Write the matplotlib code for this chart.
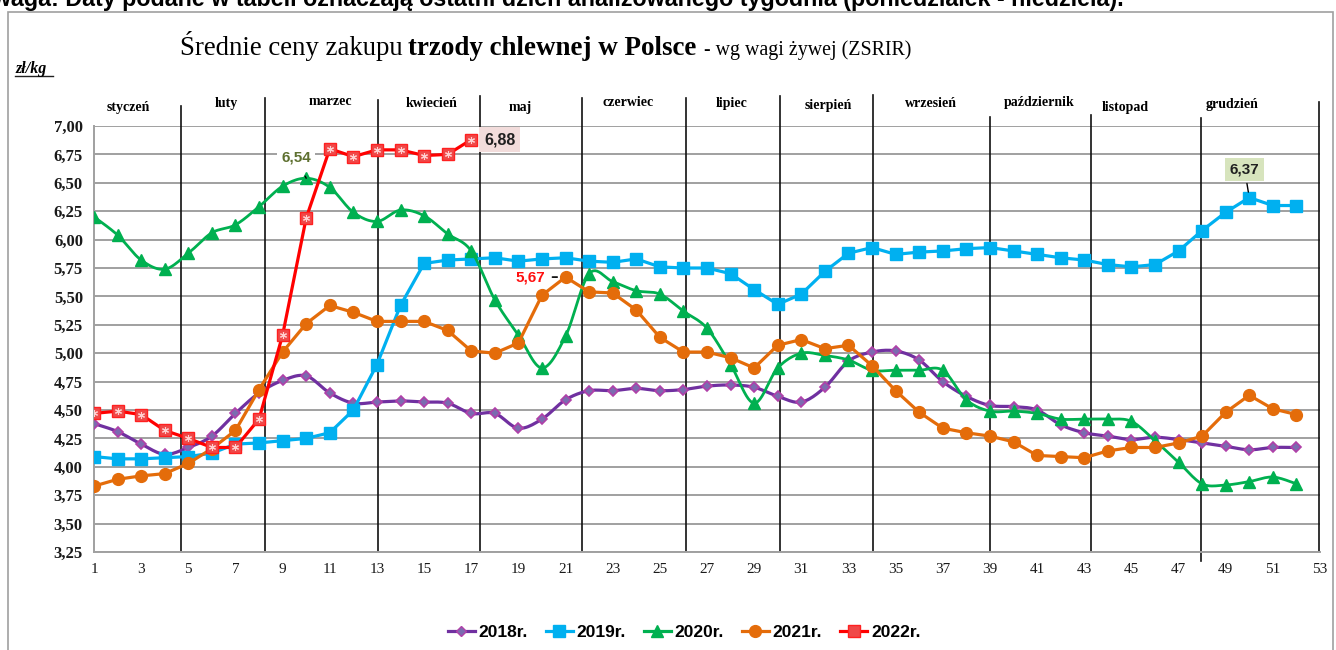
import numpy as np
import matplotlib
matplotlib.use("Agg")
import matplotlib.pyplot as plt
from matplotlib.lines import Line2D
from matplotlib.patches import Rectangle

# --- data: weekly prices (zl/kg) ---
weeks = np.arange(1, 53)
p2018 = [4.38, 4.31, 4.20, 4.11, 4.17, 4.27, 4.47, 4.65, 4.76, 4.80, 4.65, 4.56, 4.57,
         4.58, 4.57, 4.56, 4.47, 4.47, 4.34, 4.42, 4.59, 4.67, 4.67, 4.69, 4.67, 4.68,
         4.71, 4.72, 4.70, 4.62, 4.57, 4.70, 4.93, 5.01, 5.02, 4.94, 4.75, 4.62, 4.54,
         4.53, 4.50, 4.37, 4.30, 4.27, 4.24, 4.26, 4.24, 4.21, 4.18, 4.15, 4.17, 4.17]
p2019 = [4.09, 4.07, 4.07, 4.08, 4.09, 4.12, 4.20, 4.21, 4.23, 4.25, 4.30, 4.50, 4.90,
         5.42, 5.79, 5.82, 5.83, 5.84, 5.81, 5.83, 5.84, 5.81, 5.80, 5.83, 5.76, 5.75,
         5.75, 5.70, 5.56, 5.43, 5.52, 5.72, 5.88, 5.93, 5.87, 5.89, 5.90, 5.92, 5.93,
         5.90, 5.87, 5.84, 5.82, 5.78, 5.76, 5.78, 5.90, 6.08, 6.24, 6.37, 6.30, 6.30]
p2020 = [6.20, 6.04, 5.82, 5.74, 5.88, 6.06, 6.13, 6.29, 6.47, 6.54, 6.46, 6.24, 6.16,
         6.26, 6.21, 6.05, 5.90, 5.47, 5.16, 4.87, 5.15, 5.70, 5.63, 5.55, 5.52, 5.37,
         5.22, 4.90, 4.56, 4.87, 5.00, 4.98, 4.94, 4.85, 4.85, 4.85, 4.85, 4.59, 4.49,
         4.49, 4.47, 4.42, 4.42, 4.42, 4.40, 4.23, 4.04, 3.85, 3.84, 3.87, 3.91, 3.85]
p2021 = [3.83, 3.89, 3.92, 3.94, 4.03, 4.16, 4.32, 4.68, 5.01, 5.26, 5.42, 5.36, 5.28,
         5.28, 5.28, 5.20, 5.02, 5.00, 5.09, 5.51, 5.67, 5.54, 5.53, 5.38, 5.14, 5.01,
         5.01, 4.96, 4.87, 5.07, 5.12, 5.04, 5.07, 4.89, 4.67, 4.48, 4.34, 4.30, 4.27,
         4.22, 4.10, 4.09, 4.08, 4.14, 4.17, 4.17, 4.21, 4.27, 4.48, 4.63, 4.51, 4.46]
p2022 = [4.47, 4.49, 4.46, 4.32, 4.25, 4.17, 4.17, 4.42, 5.16, 6.19, 6.80, 6.73, 6.79,
         6.79, 6.74, 6.75, 6.88]

months = ["styczeń", "luty", "marzec", "kwiecień", "maj", "czerwiec", "lipiec",
          "sierpień", "wrzesień", "październik", "listopad", "grudzień"]
month_x = [2.44, 6.60, 11.01, 15.33, 19.07, 23.65, 28.06, 32.13, 36.50, 41.08, 44.72, 49.26]
month_y = [7.16, 7.20, 7.22, 7.20, 7.16, 7.21, 7.20, 7.18, 7.20, 7.21, 7.16, 7.19]
sep_x = [4.71, 8.25, 13.04, 17.37, 21.70, 26.11, 30.09, 34.04, 39.0, 43.28, 47.95, 52.95]
sep_top = [7.18, 7.25, 7.23, 7.26, 7.25, 7.25, 7.26, 7.27, 7.08, 7.10, 7.07, 7.21]
sep_bot = [3.26, 3.26, 3.26, 3.26, 3.26, 3.26, 3.26, 3.26, 3.26, 3.26, 3.17, 3.26]

c2018, c2019, c2020, c2021, c2022 = "#7030A0", "#00B0F0", "#00B050", "#E46C0A", "#FF0000"


def smooth(x, y, n=12):
    """Excel-like smoothed line (Catmull-Rom bezier)"""
    x = np.asarray(x, float)
    y = np.asarray(y, float)
    px = np.concatenate([[x[0]], x, [x[-1]]])
    py = np.concatenate([[y[0]], y, [y[-1]]])
    xs, ys = [], []
    t = np.linspace(0, 1, n, endpoint=False)
    for i in range(1, len(px) - 2):
        p0x, p1x, p2x, p3x = px[i - 1], px[i], px[i + 1], px[i + 2]
        p0y, p1y, p2y, p3y = py[i - 1], py[i], py[i + 1], py[i + 2]
        c1x, c1y = p1x + (p2x - p0x) / 6, p1y + (p2y - p0y) / 6
        c2x, c2y = p2x - (p3x - p1x) / 6, p2y - (p3y - p1y) / 6
        b = [(1 - t) ** 3, 3 * (1 - t) ** 2 * t, 3 * (1 - t) * t ** 2, t ** 3]
        xs.append(b[0] * p1x + b[1] * c1x + b[2] * c2x + b[3] * p2x)
        ys.append(b[0] * p1y + b[1] * c1y + b[2] * c2y + b[3] * p2y)
    xs.append([x[-1]])
    ys.append([y[-1]])
    return np.concatenate(xs), np.concatenate(ys)


W, H = 1336, 650
fig = plt.figure(figsize=(W / 100, H / 100), dpi=100)
ax = fig.add_axes([94 / W, 1 - 552 / H, (1320 - 94) / W, (552 - 126) / H])

# outer frame
fig.add_artist(Rectangle((8 / W, -0.01), (1333 - 8) / W, 1 - 12 / H + 0.01,
                         transform=fig.transFigure, fill=False, ec="#A0A0A0", lw=1.2))

# series
sx, sy = smooth(weeks, p2018)
ax.plot(sx, sy, color=c2018, lw=2.3, zorder=3)
ax.plot(weeks, p2018, ls="none", marker="D", ms=5, mfc="#7B6BB0", mec="#B040A8", mew=1.2, zorder=3)
ax.plot(weeks, p2019, color=c2019, lw=2.3, marker="s", ms=8.5, mec=c2019, zorder=4)
sx, sy = smooth(weeks, p2020)
ax.plot(sx, sy, color=c2020, lw=2.0, zorder=5)
ax.plot(weeks, p2020, ls="none", marker="^", ms=9, color=c2020, zorder=5)
ax.plot(weeks, p2021, color=c2021, lw=2.3, marker="o", ms=8.5, zorder=6)
ax.plot(weeks[:len(p2022)], p2022, color=c2022, lw=2.3, marker="s", ms=8, mfc="#F04848", mec="#FF2020", zorder=7)
ax.plot(weeks[:len(p2022)], p2022, ls="none", marker=(6, 2, 0), ms=5, mec="#FFD0D0", mew=0.8, zorder=8)

ax.set_xlim(1, 53)
ax.set_ylim(3.25, 7.0)
ax.set_yticks(np.arange(3.25, 7.01, 0.25))
ax.set_yticklabels([f"{v:.2f}".replace(".", ",") for v in np.arange(3.25, 7.01, 0.25)],
                   fontfamily="Liberation Serif", fontweight="bold", fontsize=12)
ax.set_xticks(np.arange(1, 54, 2))
ax.set_xticklabels([str(v) for v in range(1, 54, 2)], fontfamily="Liberation Serif", fontsize=11)
ax.tick_params(length=0, pad=8, colors="#1A1A1A")
ax.grid(axis="y", color="#A0A0A0", lw=1.4)
ax.set_axisbelow(True)
for s in ["top", "right"]:
    ax.spines[s].set_visible(False)
for s in ["left", "bottom"]:
    ax.spines[s].set_color("#A0A0A0")
    ax.spines[s].set_linewidth(1.4)

# month separators and labels
for x, t, b in zip(sep_x, sep_top, sep_bot):
    ax.plot([x, x], [b, t], color="#101010", lw=1.2, clip_on=False, zorder=2)
for m, x, y in zip(months, month_x, month_y):
    ax.text(x, y, m, ha="center", va="center", fontfamily="Liberation Serif",
            fontweight="bold", fontsize=10, clip_on=False)

# annotations
ax.annotate("6,54", xy=(10, p2020[9]), xytext=(9.57, 6.72), ha="center", va="center",
            color="#5E7030", fontweight="bold", fontsize=11, fontfamily="Liberation Sans",
            bbox=dict(boxstyle="square,pad=0.25", fc="white", ec="none"),
            arrowprops=dict(arrowstyle="-", color="black", lw=1, shrinkA=6, shrinkB=3), zorder=9)
ax.annotate("5,67", xy=(21, p2021[20]), xytext=(20.15, 5.67), ha="right", va="center",
            color="#FF1010", fontweight="bold", fontsize=11, fontfamily="Liberation Sans",
            arrowprops=dict(arrowstyle="-", color="black", lw=1.2, shrinkA=3, shrinkB=6), zorder=9)
ax.text(17.55, p2022[16], "6,88", ha="left", va="center", color="#202020",
        fontweight="bold", fontsize=11.5, fontfamily="Liberation Sans",
        bbox=dict(boxstyle="square,pad=0.3", fc="#F2DCDB", ec="none"), zorder=9)
ax.annotate("6,37", xy=(50, p2019[49]), xytext=(49.8, 6.62), ha="center", va="center",
            color="#202020", fontweight="bold", fontsize=11, fontfamily="Liberation Sans",
            bbox=dict(boxstyle="square,pad=0.3", fc="#D7E4BD", ec="none"),
            arrowprops=dict(arrowstyle="-", color="black", lw=1, shrinkA=2, shrinkB=4), zorder=9)

# titles and texts
fig.canvas.draw()
r = fig.canvas.get_renderer()


def fit(t, width_px):
    w = t.get_window_extent(r).width
    t.set_fontsize(t.get_fontsize() * width_px / w)


t1 = fig.text(180 / W, 1 - 55 / H, "Średnie ceny zakupu", fontfamily="Liberation Serif",
              fontsize=18, va="baseline")
t2 = fig.text(408 / W, 1 - 55 / H, "trzody chlewnej w Polsce", fontfamily="Liberation Serif",
              fontweight="bold", fontsize=18, va="baseline")
t3 = fig.text(704 / W, 1 - 55 / H, "- wg wagi żywej (ZSRIR)", fontfamily="Liberation Serif",
              fontsize=13, va="baseline")
fit(t1, 223)
fit(t2, 289)
fit(t3, 206)
t4 = fig.text(-24 / W, 1 - 6 / H, "Uwaga: Daty podane w tabeli oznaczają ostatni dzień analizowanego tygodnia (poniedziałek - niedziela).",
              fontfamily="Liberation Sans", fontweight="bold", fontsize=14, va="baseline")
fit(t4, 1150)
zl = fig.text(15 / W, 1 - 73 / H, "zł/kg", fontfamily="Liberation Serif", fontweight="bold",
              fontstyle="italic", fontsize=11.5, va="baseline")
fig.add_artist(Line2D([15 / W, 53 / W], [1 - 76 / H, 1 - 76 / H], color="#202020", lw=1))

# legend
handles = [
    Line2D([], [], color=c2018, lw=2.3, marker="D", ms=5, mfc="#7B6BB0", mec="#B040A8"),
    Line2D([], [], color=c2019, lw=2.3, marker="s", ms=8.5),
    Line2D([], [], color=c2020, lw=2.3, marker="^", ms=9),
    Line2D([], [], color=c2021, lw=2.3, marker="o", ms=8.5),
    Line2D([], [], color=c2022, lw=2.3, marker="s", ms=8, mfc="#F04848", mec="#FF2020"),
]
fig.legend(handles, ["2018r.", "2019r.", "2020r.", "2021r.", "2022r."], loc="center",
           bbox_to_anchor=(684 / W, 1 - 632 / H), ncol=5, frameon=False,
           prop={"family": "Liberation Sans", "weight": "bold", "size": 12.5},
           handlelength=1.6, handletextpad=0.2, columnspacing=1.0)

fig.savefig("out.png", dpi=100)
